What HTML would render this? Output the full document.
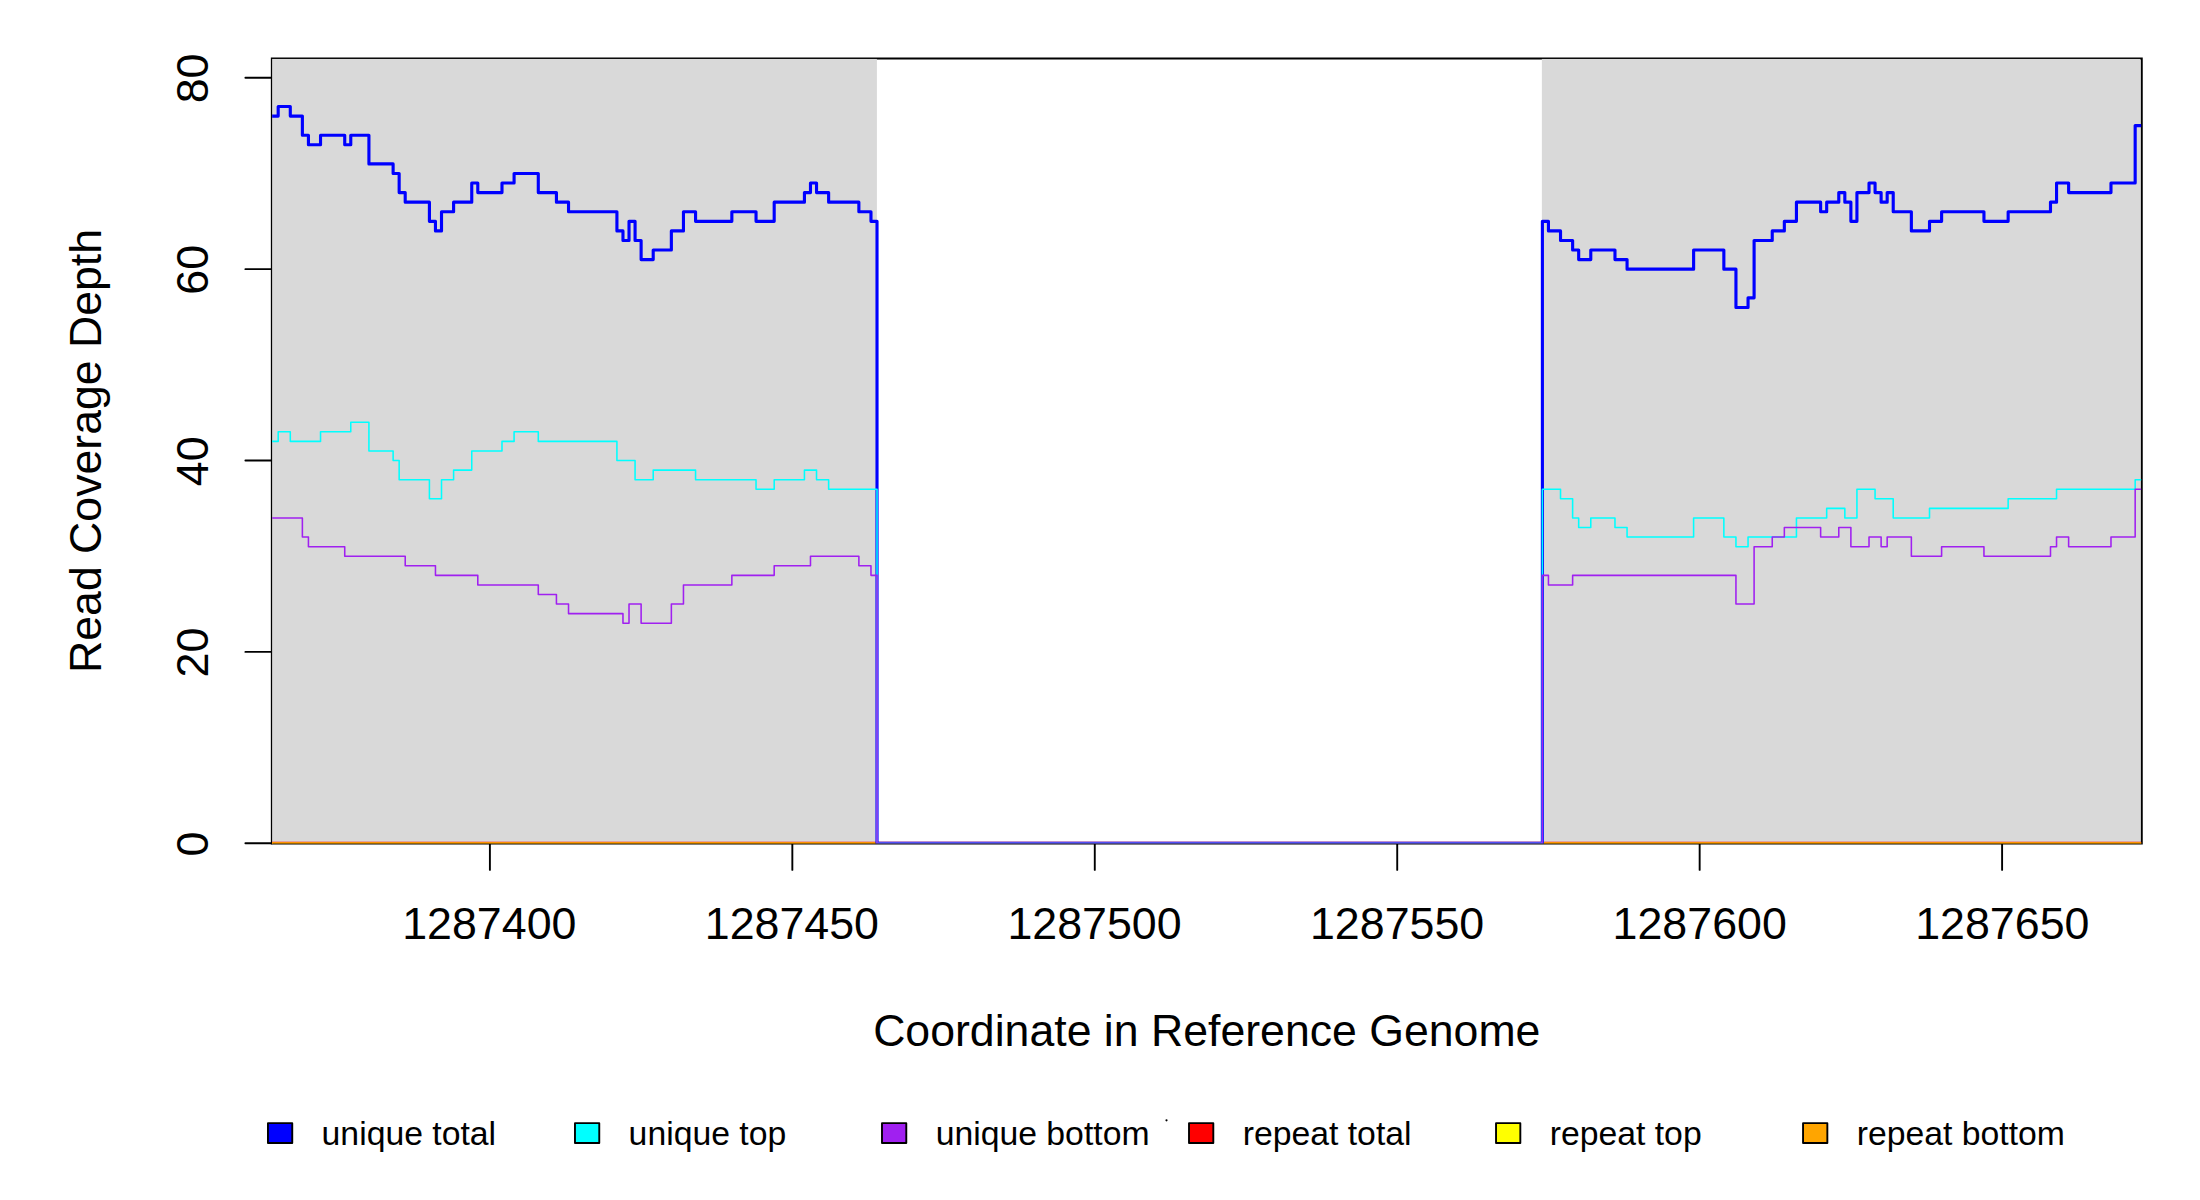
<!DOCTYPE html>
<html><head><meta charset="utf-8"><title>Read Coverage Depth</title>
<style>html,body{margin:0;padding:0;background:#fff;overflow:hidden;width:2200px;height:1200px}svg{display:block}</style></head>
<body>
<svg width="2200" height="1200" viewBox="0 0 2200 1200">
<defs><clipPath id="pc"><rect x="271.85" y="58.50" width="1869.90" height="785.00"/></clipPath></defs>
<rect width="2200" height="1200" fill="#fff"/>
<rect x="271.85" y="58.50" width="1869.90" height="785.00" fill="none" stroke="#000" stroke-width="2.0"/>
<line x1="245.4" x2="271.85" y1="843.30" y2="843.30" stroke="#000" stroke-width="1.9" stroke-linecap="round"/>
<line x1="245.4" x2="271.85" y1="651.92" y2="651.92" stroke="#000" stroke-width="1.9" stroke-linecap="round"/>
<line x1="245.4" x2="271.85" y1="460.54" y2="460.54" stroke="#000" stroke-width="1.9" stroke-linecap="round"/>
<line x1="245.4" x2="271.85" y1="269.16" y2="269.16" stroke="#000" stroke-width="1.9" stroke-linecap="round"/>
<line x1="245.4" x2="271.85" y1="77.78" y2="77.78" stroke="#000" stroke-width="1.9" stroke-linecap="round"/>
<line x1="489.90" x2="489.90" y1="843.50" y2="869.9" stroke="#000" stroke-width="1.9" stroke-linecap="round"/>
<line x1="792.34" x2="792.34" y1="843.50" y2="869.9" stroke="#000" stroke-width="1.9" stroke-linecap="round"/>
<line x1="1094.78" x2="1094.78" y1="843.50" y2="869.9" stroke="#000" stroke-width="1.9" stroke-linecap="round"/>
<line x1="1397.22" x2="1397.22" y1="843.50" y2="869.9" stroke="#000" stroke-width="1.9" stroke-linecap="round"/>
<line x1="1699.66" x2="1699.66" y1="843.50" y2="869.9" stroke="#000" stroke-width="1.9" stroke-linecap="round"/>
<line x1="2002.10" x2="2002.10" y1="843.50" y2="869.9" stroke="#000" stroke-width="1.9" stroke-linecap="round"/>
<g clip-path="url(#pc)">
<rect x="272.14" y="58.90" width="604.76" height="784.10" fill="#d9d9d9"/>
<rect x="1541.85" y="58.90" width="598.35" height="784.10" fill="#d9d9d9"/>
<path d="M272.14 843.30H2141.22" fill="none" stroke="#ff0000" stroke-width="3.13"/>
<path d="M272.14 843.30H2141.22" fill="none" stroke="#ffff00" stroke-width="1.56"/>
<path d="M272.14 843.30H2141.22" fill="none" stroke="#ffa500" stroke-width="1.56"/>
<path d="M272.14 116.06H278.19V106.49H290.29V116.06H302.38V135.19H308.43V144.76H320.53V135.19H344.73V144.76H350.77V135.19H368.92V163.90H393.12V173.47H399.16V192.61H405.21V202.18H429.41V221.31H435.46V230.88H441.51V211.75H453.60V202.18H471.75V183.04H477.80V192.61H501.99V183.04H514.09V173.47H538.29V192.61H556.43V202.18H568.53V211.75H616.92V230.88H622.97V240.45H629.02V221.31H635.07V240.45H641.12V259.59H653.21V250.02H671.36V230.88H683.46V211.75H695.56V221.31H731.85V211.75H756.04V221.31H774.19V202.18H804.43V192.61H810.48V183.04H816.53V192.61H828.63V202.18H858.87V211.75H870.97V221.31H877.02V843.30H1542.39V221.31H1548.44V230.88H1560.53V240.45H1572.63V250.02H1578.68V259.59H1590.78V250.02H1614.97V259.59H1627.07V269.16H1693.61V250.02H1723.85V269.16H1735.95V307.44H1748.05V297.87H1754.10V240.45H1772.24V230.88H1784.34V221.31H1796.44V202.18H1820.63V211.75H1826.68V202.18H1838.78V192.61H1844.83V202.18H1850.88V221.31H1856.93V192.61H1869.02V183.04H1875.07V192.61H1881.12V202.18H1887.17V192.61H1893.22V211.75H1911.36V230.88H1929.51V221.31H1941.61V211.75H1983.95V221.31H2008.15V211.75H2050.49V202.18H2056.54V183.04H2068.63V192.61H2110.98V183.04H2135.17V125.62H2141.22" fill="none" stroke="#0000ff" stroke-width="3.13" stroke-linejoin="round"/>
<path d="M272.14 441.40H278.19V431.83H290.29V441.40H320.53V431.83H350.77V422.26H368.92V450.97H393.12V460.54H399.16V479.68H429.41V498.82H441.51V479.68H453.60V470.11H471.75V450.97H501.99V441.40H514.09V431.83H538.29V441.40H616.92V460.54H635.07V479.68H653.21V470.11H695.56V479.68H756.04V489.25H774.19V479.68H804.43V470.11H816.53V479.68H828.63V489.25H877.02V843.30H1542.39V489.25H1560.53V498.82H1572.63V517.95H1578.68V527.52H1590.78V517.95H1614.97V527.52H1627.07V537.09H1693.61V517.95H1723.85V537.09H1735.95V546.66H1748.05V537.09H1796.44V517.95H1826.68V508.38H1844.83V517.95H1856.93V489.25H1875.07V498.82H1893.22V517.95H1929.51V508.38H2008.15V498.82H2056.54V489.25H2135.17V479.68H2141.22" fill="none" stroke="#00ffff" stroke-width="1.56" stroke-linejoin="round"/>
<path d="M272.14 517.95H302.38V537.09H308.43V546.66H344.73V556.23H405.21V565.80H435.46V575.37H477.80V584.94H538.29V594.51H556.43V604.07H568.53V613.64H622.97V623.21H629.02V604.07H641.12V623.21H671.36V604.07H683.46V584.94H731.85V575.37H774.19V565.80H810.48V556.23H858.87V565.80H870.97V575.37H877.02V843.30H1542.39V575.37H1548.44V584.94H1572.63V575.37H1735.95V604.07H1754.10V546.66H1772.24V537.09H1784.34V527.52H1820.63V537.09H1838.78V527.52H1850.88V546.66H1869.02V537.09H1881.12V546.66H1887.17V537.09H1911.36V556.23H1941.61V546.66H1983.95V556.23H2050.49V546.66H2056.54V537.09H2068.63V546.66H2110.98V537.09H2135.17V489.25H2141.22" fill="none" stroke="#a020f0" stroke-width="1.56" stroke-linejoin="round"/>
</g>
<rect x="272.85" y="843" width="1867.90" height="1" fill="#000" opacity="0.33"/>
<g style="font-family:'Liberation Sans',Arial,Helvetica,sans-serif;font-size:44.75px" fill="#000">
<text x="489.30" y="939.3" text-anchor="middle">1287400</text>
<text x="791.90" y="939.3" text-anchor="middle">1287450</text>
<text x="1094.50" y="939.3" text-anchor="middle">1287500</text>
<text x="1397.10" y="939.3" text-anchor="middle">1287550</text>
<text x="1699.70" y="939.3" text-anchor="middle">1287600</text>
<text x="2002.30" y="939.3" text-anchor="middle">1287650</text>
<text transform="translate(207.7 844.00) rotate(-90)" text-anchor="middle">0</text>
<text transform="translate(207.7 652.62) rotate(-90)" text-anchor="middle">20</text>
<text transform="translate(207.7 461.24) rotate(-90)" text-anchor="middle">40</text>
<text transform="translate(207.7 269.86) rotate(-90)" text-anchor="middle">60</text>
<text transform="translate(207.7 78.48) rotate(-90)" text-anchor="middle">80</text>
<text x="1206.8" y="1045.65" text-anchor="middle" style="font-size:44.64px">Coordinate in Reference Genome</text>
<text transform="translate(101.2 450.95) rotate(-90)" text-anchor="middle" style="font-size:44.64px">Read Coverage Depth</text>
</g>
<g style="font-family:'Liberation Sans',Arial,Helvetica,sans-serif;font-size:33.75px" fill="#000">
<rect x="267.95" y="1123.15" width="24.3" height="19.9" fill="#0000ff" stroke="#000" stroke-width="1.9" stroke-linejoin="round"/>
<text x="321.60" y="1144.5">unique total</text>
<rect x="574.97" y="1123.15" width="24.3" height="19.9" fill="#00ffff" stroke="#000" stroke-width="1.9" stroke-linejoin="round"/>
<text x="628.62" y="1144.5">unique top</text>
<rect x="881.99" y="1123.15" width="24.3" height="19.9" fill="#a020f0" stroke="#000" stroke-width="1.9" stroke-linejoin="round"/>
<text x="935.64" y="1144.5">unique bottom</text>
<rect x="1189.01" y="1123.15" width="24.3" height="19.9" fill="#ff0000" stroke="#000" stroke-width="1.9" stroke-linejoin="round"/>
<text x="1242.66" y="1144.5">repeat total</text>
<rect x="1496.03" y="1123.15" width="24.3" height="19.9" fill="#ffff00" stroke="#000" stroke-width="1.9" stroke-linejoin="round"/>
<text x="1549.68" y="1144.5">repeat top</text>
<rect x="1803.05" y="1123.15" width="24.3" height="19.9" fill="#ffa500" stroke="#000" stroke-width="1.9" stroke-linejoin="round"/>
<text x="1856.70" y="1144.5">repeat bottom</text>
</g>
<circle cx="1166.5" cy="1120.3" r="1.1" fill="#000"/>
</svg>
</body></html>
